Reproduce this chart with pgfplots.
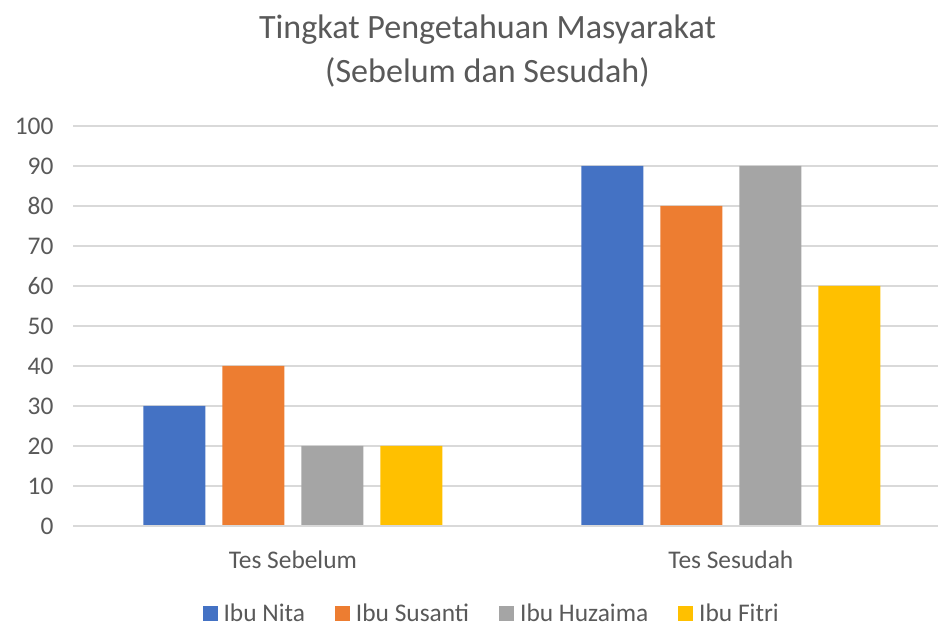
\documentclass[border=0pt]{standalone}
\usepackage{pgfplots}
\pgfplotsset{compat=1.18}
\usepackage{fontspec}
\setmainfont{Carlito}
\definecolor{txt}{HTML}{595959}
\definecolor{grd}{HTML}{D9D9D9}
\definecolor{c1}{HTML}{4472C4}
\definecolor{c2}{HTML}{ED7D31}
\definecolor{c3}{HTML}{A5A5A5}
\definecolor{c4}{HTML}{FFC000}
\begin{document}
\begin{tikzpicture}
\path[use as bounding box] (0,0) rectangle (938bp,626bp);
\begin{axis}[
  at={(73bp,100bp)}, anchor=south west,
  scale only axis, width=865bp, height=400bp,
  xmin=-0.502, xmax=1.473, ymin=0, ymax=100,
  ybar=17bp, bar width=62bp,
  xtick={0,1}, xticklabels={Tes Sebelum, Tes Sesudah},
  ytick={0,10,...,100},
  ymajorgrids, grid style={grd, line width=1.2bp},
  axis line style={draw=none},
  axis x line*=bottom,
  tick style={draw=none},
  /pgf/number format/assume math mode=true,
  yticklabel style={font=\fontsize{25.5}{30}\selectfont, text=txt, anchor=east, xshift=-16bp},
  xticklabel style={font=\fontsize{25.5}{30}\selectfont, text=txt, anchor=north, yshift=-17bp},
  legend style={at={(axis description cs:0.484,-0.218)}, anchor=center, draw=none, fill=none,
    font=\fontsize{25.5}{30}\selectfont, text=txt, legend columns=4,
    inner ysep=0pt,
    /tikz/every even column/.append style={column sep=28bp}},
  legend image code/.code={\fill[#1] (0bp,-7.5bp) rectangle (15bp,7.5bp); \path (19bp,0bp);},
]
\addplot[fill=c1, draw=none] coordinates {(0,30) (1,90)};
\addplot[fill=c2, draw=none] coordinates {(0,40) (1,80)};
\addplot[fill=c3, draw=none] coordinates {(0,20) (1,90)};
\addplot[fill=c4, draw=none] coordinates {(0,20) (1,60)};
\draw[grd, line width=1.2bp] (axis cs:-0.502,0) -- (axis cs:1.473,0);
\legend{Ibu Nita, Ibu Susanti, Ibu Huzaima, Ibu Fitri}
\end{axis}
\node[anchor=base, text=txt, font=\fontsize{34.2}{40}\selectfont] at (487.5bp,587bp) {Tingkat Pengetahuan Masyarakat};
\node[anchor=base, text=txt, font=\fontsize{34.2}{40}\selectfont] at (487.5bp,543bp) {(Sebelum dan Sesudah)};
\end{tikzpicture}
\end{document}
